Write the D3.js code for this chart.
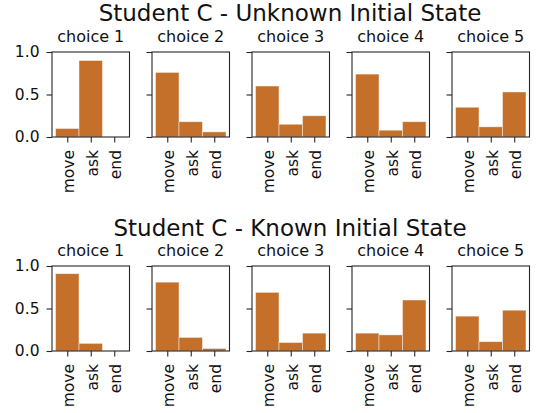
<!DOCTYPE html>
<html>
<head>
<meta charset="utf-8">
<script src="https://cdn.jsdelivr.net/npm/d3@7"></script>
<style>
  html, body { margin: 0; padding: 0; background: #fff; }
  svg { display: block; font-family: "DejaVu Sans", sans-serif; }
</style>
</head>
<body>
<svg id="chart" width="536" height="413"></svg>
<script>
// Action categories and per-choice probabilities
const actions = ["move", "ask", "end"];
const choices = ["choice 1", "choice 2", "choice 3", "choice 4", "choice 5"];
const panelTitles = ["Student C - Unknown Initial State", "Student C - Known Initial State"];
const yTicks = [0, 0.5, 1.0];

const unknownState = [
  [0.10, 0.90, 0.00],
  [0.76, 0.18, 0.06],
  [0.60, 0.15, 0.25],
  [0.74, 0.08, 0.18],
  [0.35, 0.12, 0.53]
];
const knownState = [
  [0.91, 0.09, 0.00],
  [0.81, 0.16, 0.03],
  [0.69, 0.10, 0.21],
  [0.21, 0.19, 0.60],
  [0.41, 0.11, 0.48]
];
const panels = [unknownState, knownState];

const svg = d3.select("#chart");
const barColor = "#c4702b";
const axW = 77.5, axH = 85, colStep = 100, left0 = 52;
const rowTops = [52, 266];
const titleY = [21, 236];

panels.forEach((rows, r) => {
  const top = rowTops[r];
  svg.append("text")
    .attr("x", 290).attr("y", titleY[r])
    .attr("text-anchor", "middle")
    .attr("font-size", 23).attr("fill", "#111")
    .text(panelTitles[r]);

  rows.forEach((vals, c) => {
    const left = left0 + c * colStep;
    const x = d3.scaleLinear().domain([-0.65, 2.65]).range([left, left + axW]);
    const y = d3.scaleLinear().domain([0, 1]).range([top + axH, top]);
    const g = svg.append("g");

    g.selectAll("rect.bar").data(vals).join("rect")
      .attr("class", "bar")
      .attr("x", (d, i) => x(i - 0.5))
      .attr("width", (d, i) => x(i + 0.5) - x(i - 0.5))
      .attr("y", d => y(d))
      .attr("height", d => y(0) - y(d))
      .attr("fill", barColor)
      .attr("stroke", "#fff").attr("stroke-opacity", 0.55).attr("stroke-width", 0.8);

    // frame
    g.append("rect")
      .attr("x", left).attr("y", top).attr("width", axW).attr("height", axH)
      .attr("fill", "none").attr("stroke", "#262626").attr("stroke-width", 1.1);

    // y axis
    const ya = d3.axisLeft(y).tickValues(yTicks).tickSize(5.5).tickPadding(7)
      .tickFormat(c === 0 ? d3.format(".1f") : () => "");
    const yg = g.append("g").attr("transform", `translate(${left},0)`).call(ya);
    yg.select(".domain").remove();
    yg.selectAll("line").attr("stroke", "#262626").attr("stroke-width", 1.1);
    yg.selectAll("text").attr("font-size", 15.5).attr("fill", "#111")
      .attr("font-family", "DejaVu Sans");

    // x axis
    const xa = d3.axisBottom(x).tickValues([0, 1, 2]).tickSize(5.5).tickPadding(5)
      .tickFormat(i => actions[i]);
    const xg = g.append("g").attr("transform", `translate(0,${top + axH})`).call(xa);
    xg.select(".domain").remove();
    xg.selectAll("line").attr("stroke", "#262626").attr("stroke-width", 1.1);
    xg.selectAll("text")
      .attr("font-size", 15.5).attr("fill", "#111").attr("font-family", "DejaVu Sans")
      .attr("transform", "rotate(-90)")
      .attr("x", -13).attr("y", 0).attr("dy", "0.42em")
      .attr("text-anchor", "end");

    // subplot title
    g.append("text")
      .attr("x", left + axW / 2).attr("y", top - 10.5)
      .attr("text-anchor", "middle")
      .attr("font-size", 16).attr("fill", "#111")
      .text(choices[c]);
  });
});
</script>
</body>
</html>
